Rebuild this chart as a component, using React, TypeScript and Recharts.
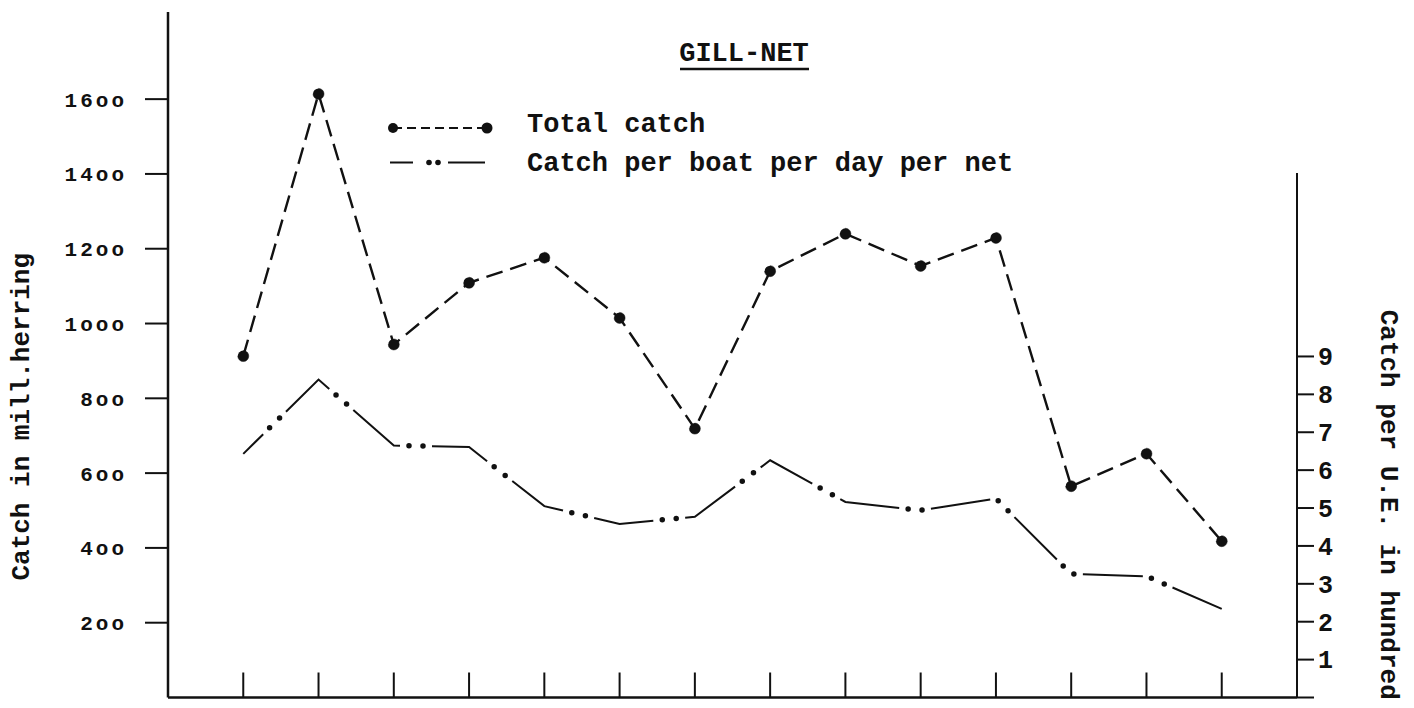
import React from 'react';
import { LineChart, Line, XAxis, YAxis, ReferenceLine, Legend, Label } from 'recharts';

// ---- data ----
const seasons = [1, 2, 3, 4, 5, 6, 7, 8, 9, 10, 11, 12, 13, 14];
const totalCatch = [913, 1614, 944, 1109, 1176, 1015, 719, 1140, 1240, 1154, 1229, 565, 652, 418];
const catchPerUnitEffort = [6.43, 8.39, 6.65, 6.61, 5.05, 4.58, 4.77, 6.26, 5.16, 4.94, 5.25, 3.26, 3.2, 2.34];

const leftTicks = [200, 400, 600, 800, 1000, 1200, 1400, 1600];
const leftTickLabels = ['2oo', '4oo', '6oo', '8oo', '1ooo', '12oo', '14oo', '16oo'];
const rightTicks = [0, 1, 2, 3, 4, 5, 6, 7, 8, 9];
const rightTickLabels = ['', '1', '2', '3', '4', '5', '6', '7', '8', '9'];

const xDomain = [0, 15];
const leftDomain = [0, 1833];
const rightDomain = [0, 18.09];
const rightAxisTop = 13.84;

const titleText = 'GILL-NET';
const totalName = 'Total catch';
const cpueName = 'Catch per boat per day per net';
const leftAxisTitle = 'Catch in mill.herring';
const rightAxisTitle = 'Catch per U.E. in hundred';

const data = seasons.map((s, i) => ({ season: s, total: totalCatch[i], cpue: catchPerUnitEffort[i] }));

const FONT = '"Liberation Mono", "DejaVu Sans Mono", monospace';
const INK = '#111';
const WEIGHT = 'bold';

const leftFmt = (v: number) => leftTickLabels[leftTicks.indexOf(v)] ?? '';
const rightFmt = (v: number) => rightTickLabels[rightTicks.indexOf(v)] ?? '';
const noLabel = () => '';

const renderLegend = () => (
  <svg width={720} height={75} style={{ display: 'block', overflow: 'visible' }}>
    <line x1={13} y1={18} x2={107} y2={18} stroke={INK} strokeWidth={2} strokeDasharray="9 5" />
    <circle cx={13} cy={18} r={5} fill={INK} />
    <circle cx={107} cy={18} r={5.5} fill={INK} />
    <text x={147} y={22} fontFamily={FONT} fontWeight={WEIGHT} fontSize={27} fill={INK}>{totalName}</text>
    <line x1={10} y1={52.5} x2={33} y2={52.5} stroke={INK} strokeWidth={2} />
    <circle cx={49} cy={52.5} r={2.8} fill={INK} />
    <circle cx={58} cy={52.5} r={2.8} fill={INK} />
    <line x1={68} y1={52.5} x2={105} y2={52.5} stroke={INK} strokeWidth={2} />
    <text x={147} y={61} fontFamily={FONT} fontWeight={WEIGHT} fontSize={27} fill={INK}>{cpueName}</text>
  </svg>
);

const LeftTitle = (props: any) => {
  const vb = props.viewBox || { x: 0, y: 0, width: 0, height: 0 };
  const cx = vb.x + 22;
  const cy = vb.y + vb.height / 2 + 62;
  return (
    <text x={cx} y={cy} transform={`rotate(-90 ${cx} ${cy})`} textAnchor="middle" dominantBaseline="central"
      fontFamily={FONT} fontWeight={WEIGHT} fontSize={26} fill={INK}>{leftAxisTitle}</text>
  );
};

const RightTitle = (props: any) => {
  const vb = props.viewBox || { x: 0, y: 0, width: 0, height: 0 };
  const cx = vb.x + 91;
  const cy = vb.y + vb.height / 2 + 150;
  return (
    <text x={cx} y={cy} transform={`rotate(90 ${cx} ${cy})`} textAnchor="middle" dominantBaseline="central"
      fontFamily={FONT} fontWeight={WEIGHT} fontSize={26} fill={INK}>{rightAxisTitle}</text>
  );
};

export default function App() {
  return (
    <div style={{ position: 'absolute', left: 0, top: 0, width: 1414, height: 708, background: '#fff' }}>
      <LineChart width={1414} height={708} data={data} margin={{ top: 12, right: 0, bottom: 10.5, left: 0 }}>
        <XAxis
          dataKey="season"
          type="number"
          domain={xDomain}
          ticks={seasons}
          mirror
          tickFormatter={noLabel}
          tickSize={25}
          axisLine={{ stroke: INK, strokeWidth: 2.5 }}
          tickLine={{ stroke: INK, strokeWidth: 2 }}
        />
        <YAxis
          yAxisId="left"
          width={168}
          type="number"
          domain={leftDomain}
          ticks={leftTicks}
          tickFormatter={leftFmt}
          tickSize={23}
          tickMargin={18}
          axisLine={{ stroke: INK, strokeWidth: 2.5 }}
          tickLine={{ stroke: INK, strokeWidth: 2 }}
          tick={{ fill: INK, fontSize: 21, fontWeight: WEIGHT, fontFamily: FONT, style: { letterSpacing: '3px' } }}
          label={<Label content={LeftTitle} />}
        />
        <YAxis
          yAxisId="right"
          orientation="right"
          width={117}
          type="number"
          domain={rightDomain}
          ticks={rightTicks}
          tickFormatter={rightFmt}
          tickSize={17}
          tickMargin={4}
          axisLine={false}
          tickLine={{ stroke: INK, strokeWidth: 2 }}
          tick={{ fill: INK, fontSize: 25, fontWeight: WEIGHT, fontFamily: FONT }}
          label={<Label content={RightTitle} />}
        />
        <ReferenceLine
          yAxisId="right"
          segment={[{ x: xDomain[1], y: 0 }, { x: xDomain[1], y: rightAxisTop }]}
          stroke={INK}
          strokeWidth={2}
        />
        <Legend
          content={renderLegend}
          layout="horizontal"
          verticalAlign="middle"
          align="center"
          wrapperStyle={{ left: 380, top: 110, width: 720, height: 75 }}
        />
        <Line
          yAxisId="left"
          dataKey="total"
          name={totalName}
          stroke={INK}
          strokeWidth={2.4}
          strokeDasharray="17 8"
          dot={{ r: 5.5, fill: INK, stroke: INK, strokeWidth: 0.5 }}
          activeDot={false}
          isAnimationActive={false}
        />
        <Line
          yAxisId="right"
          dataKey="cpue"
          name={cpueName}
          stroke={INK}
          strokeWidth={2}
          strokeDasharray="60 32"
          strokeDashoffset={32}
          dot={false}
          activeDot={false}
          isAnimationActive={false}
        />
        <Line
          yAxisId="right"
          dataKey="cpue"
          name={cpueName + ' '}
          legendType="none"
          stroke={INK}
          strokeWidth={5.5}
          strokeLinecap="round"
          strokeDasharray="0 14 0 78"
          strokeDashoffset={55}
          dot={false}
          activeDot={false}
          isAnimationActive={false}
        />
      </LineChart>
      <svg width={1414} height={100} style={{ position: 'absolute', left: 0, top: 0, pointerEvents: 'none' }}>
        <text x={744} y={61} textAnchor="middle" fontFamily={FONT} fontWeight={WEIGHT} fontSize={27} fill={INK}>{titleText}</text>
        <line x1={680} y1={69} x2={809} y2={69} stroke={INK} strokeWidth={2.5} />
      </svg>
    </div>
  );
}
